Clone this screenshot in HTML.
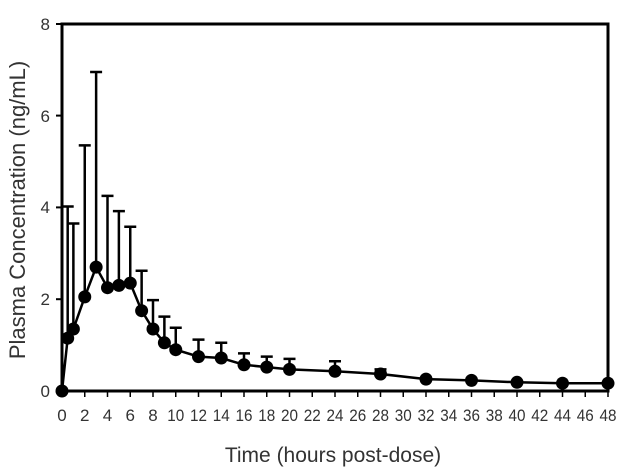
<!DOCTYPE html><html><head><style>body{margin:0;background:#fff}</style></head><body>
<svg width="624" height="469" xmlns="http://www.w3.org/2000/svg" font-family="Liberation Sans, sans-serif">
<rect x="62" y="24" width="546" height="367" fill="none" stroke="#000" stroke-width="3"/>
<g stroke="#000" stroke-width="2">
<line x1="56" x2="62" y1="391" y2="391"/><line x1="56" x2="62" y1="299.2" y2="299.2"/><line x1="56" x2="62" y1="207.4" y2="207.4"/><line x1="56" x2="62" y1="115.6" y2="115.6"/><line x1="56" x2="62" y1="24" y2="24"/>
</g>
<g font-size="17" fill="#333" text-anchor="end">
<text x="50" y="397">0</text><text x="50" y="305">2</text><text x="50" y="213">4</text><text x="50" y="122">6</text><text x="50" y="30">8</text>
</g>
<path stroke="#000" stroke-width="1.5" fill="none" d="M62 391V397M84.75 391V397M107.5 391V397M130.25 391V397M153 391V397M175.75 391V397M198.5 391V397M221.25 391V397M244 391V397M266.75 391V397M289.5 391V397M312.25 391V397M335 391V397M357.75 391V397M380.5 391V397M403.25 391V397M426 391V397M448.75 391V397M471.5 391V397M494.25 391V397M517 391V397M539.75 391V397M562.5 391V397M585.25 391V397M608 391V397"/>
<g font-size="17" fill="#333" text-anchor="middle">
<text x="62" y="421">0</text><text x="84.75" y="421">2</text><text x="107.5" y="421">4</text><text x="130.25" y="421">6</text><text x="153" y="421">8</text>
<text x="175.75" y="421" textLength="17" lengthAdjust="spacingAndGlyphs">10</text><text x="198.5" y="421" textLength="17" lengthAdjust="spacingAndGlyphs">12</text><text x="221.25" y="421" textLength="17" lengthAdjust="spacingAndGlyphs">14</text><text x="244" y="421" textLength="17" lengthAdjust="spacingAndGlyphs">16</text><text x="266.75" y="421" textLength="17" lengthAdjust="spacingAndGlyphs">18</text><text x="289.5" y="421" textLength="17" lengthAdjust="spacingAndGlyphs">20</text><text x="312.25" y="421" textLength="17" lengthAdjust="spacingAndGlyphs">22</text><text x="335" y="421" textLength="17" lengthAdjust="spacingAndGlyphs">24</text><text x="357.75" y="421" textLength="17" lengthAdjust="spacingAndGlyphs">26</text><text x="380.5" y="421" textLength="17" lengthAdjust="spacingAndGlyphs">28</text><text x="403.25" y="421" textLength="17" lengthAdjust="spacingAndGlyphs">30</text><text x="426" y="421" textLength="17" lengthAdjust="spacingAndGlyphs">32</text><text x="448.75" y="421" textLength="17" lengthAdjust="spacingAndGlyphs">34</text><text x="471.5" y="421" textLength="17" lengthAdjust="spacingAndGlyphs">36</text><text x="494.25" y="421" textLength="17" lengthAdjust="spacingAndGlyphs">38</text><text x="517" y="421" textLength="17" lengthAdjust="spacingAndGlyphs">40</text><text x="539.75" y="421" textLength="17" lengthAdjust="spacingAndGlyphs">42</text><text x="562.5" y="421" textLength="17" lengthAdjust="spacingAndGlyphs">44</text><text x="585.25" y="421" textLength="17" lengthAdjust="spacingAndGlyphs">46</text><text x="608" y="421" textLength="17" lengthAdjust="spacingAndGlyphs">48</text>
</g>
<path stroke="#000" stroke-width="2.5" fill="none" d="M67.69 338.2V206.5M61.7 206.5H73.7M73.38 329V223.5M67.4 223.5H79.4M84.75 296.9V145.4M78.75 145.4H90.75M96.13 267.1V72M90.1 72H102.1M107.5 287.7V195.9M101.5 195.9H113.5M118.88 285.4V211.1M112.9 211.1H124.9M130.25 283.1V226.7M124.25 226.7H136.25M141.63 310.7V270.7M135.6 270.7H147.6M153 329V300.1M147 300.1H159M164.38 342.8V316.6M158.4 316.6H170.4M175.75 349.7V327.7M169.75 327.7H181.75M198.5 356.6V339.6M192.5 339.6H204.5M221.25 358V342.8M215.25 342.8H227.25M244 364.8V353.4M238 353.4H250M266.75 367.1V356.6M260.75 356.6H272.75M289.5 369.4V358.9M283.5 358.9H295.5M335 371.3V361.2M329 361.2H341M380.5 374V369.4M374.5 369.4H386.5"/>
<polyline fill="none" stroke="#000" stroke-width="2.5" points="62,391 67.69,338.2 73.38,329 84.75,296.9 96.13,267.1 107.5,287.7 118.88,285.4 130.25,283.1 141.63,310.7 153,329 164.38,342.8 175.75,349.7 198.5,356.6 221.25,358 244,364.8 266.75,367.1 289.5,369.4 335,371.3 380.5,374 426,379.1 471.5,380.4 517,382.3 562.5,383.2 608,383.2"/>
<g fill="#000">
<circle cx="62" cy="391" r="6.5"/><circle cx="67.69" cy="338.2" r="6.5"/><circle cx="73.38" cy="329" r="6.5"/><circle cx="84.75" cy="296.9" r="6.5"/><circle cx="96.13" cy="267.1" r="6.5"/><circle cx="107.5" cy="287.7" r="6.5"/><circle cx="118.88" cy="285.4" r="6.5"/><circle cx="130.25" cy="283.1" r="6.5"/><circle cx="141.63" cy="310.7" r="6.5"/><circle cx="153" cy="329" r="6.5"/><circle cx="164.38" cy="342.8" r="6.5"/><circle cx="175.75" cy="349.7" r="6.5"/><circle cx="198.5" cy="356.6" r="6.5"/><circle cx="221.25" cy="358" r="6.5"/><circle cx="244" cy="364.8" r="6.5"/><circle cx="266.75" cy="367.1" r="6.5"/><circle cx="289.5" cy="369.4" r="6.5"/><circle cx="335" cy="371.3" r="6.5"/><circle cx="380.5" cy="374" r="6.5"/><circle cx="426" cy="379.1" r="6.5"/><circle cx="471.5" cy="380.4" r="6.5"/><circle cx="517" cy="382.3" r="6.5"/><circle cx="562.5" cy="383.2" r="6.5"/><circle cx="608" cy="383.2" r="6.5"/>
</g>
<text x="333" y="462" font-size="21" fill="#333" text-anchor="middle">Time (hours post-dose)</text>
<text transform="translate(25,210) rotate(-90)" font-size="22" fill="#333" text-anchor="middle">Plasma Concentration (ng/mL)</text>
</svg></body></html>
